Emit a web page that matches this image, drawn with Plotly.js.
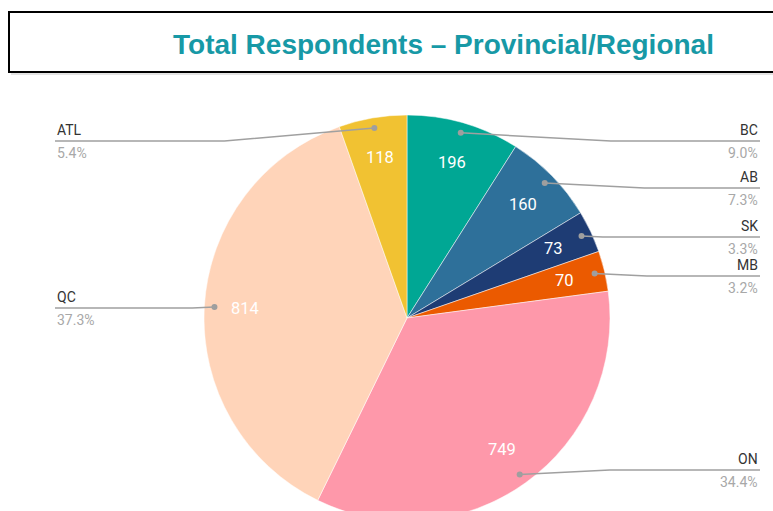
<!DOCTYPE html>
<html>
<head>
<meta charset="utf-8">
<script src="https://cdn.plot.ly/plotly-3.0.1.min.js"></script>
<style>
html, body { margin: 0; padding: 0; overflow: hidden; background: #fff; }
#chart { width: 773px; height: 540px; }
</style>
</head>
<body>
<div id="chart"></div>
<script>
// ---- data ----
const categories = ['BC', 'AB', 'SK', 'MB', 'ON', 'QC', 'ATL'];
const values = [196, 160, 73, 70, 749, 814, 118];
const titleText = 'Total Respondents \u2013 Provincial/Regional';

// ---- styles / layout constants ----
const sliceColors = ['#00a794', '#2e709a', '#1e3c74', '#eb5a00', '#fe98aa', '#ffd4b9', '#f1c232'];
const labelLineY = { BC: 141, AB: 188, SK: 237, MB: 276, ON: 470, QC: 308, ATL: 141 };

const W = 773, H = 540;
const CX = 407, CY = 318, R = 203;
const RIGHT_X = 760, LEFT_X = 55;

function px(x) { return x / W; }
function py(y) { return (H - y) / H; }

const total = values.reduce((a, b) => a + b, 0);

const shapes = [
  { type: 'rect', xref: 'paper', yref: 'paper', x0: px(9), x1: 1.02, y0: py(72), y1: py(12),
    line: { color: '#000', width: 2 }, fillcolor: 'rgba(0,0,0,0)', layer: 'above' },
  { type: 'line', xref: 'paper', yref: 'paper', x0: px(11), x1: 1.02, y0: py(74), y1: py(74),
    line: { color: '#c8c8c8', width: 1 } }
];
const annotations = [];

let cum = 0;
categories.forEach((cat, i) => {
  const v = values[i];
  const midFrac = (cum + v / 2) / total;
  cum += v;
  const th = midFrac * 2 * Math.PI;
  const s = Math.sin(th), c = Math.cos(th);
  // value label inside slice
  const tx = CX + 0.8 * R * s, ty = CY - 0.8 * R * c;
  annotations.push({ xref: 'paper', yref: 'paper', x: px(tx), y: py(ty), text: String(v),
    showarrow: false, xanchor: 'center', yanchor: 'middle',
    font: { family: 'Roboto, sans-serif', size: 16.5, color: '#ffffff' } });
  // leader dot
  const dx = CX + 0.95 * R * s, dy = CY - 0.95 * R * c;
  shapes.push({ type: 'circle', xref: 'paper', yref: 'paper', x0: px(dx - 3), x1: px(dx + 3),
    y0: py(dy + 3), y1: py(dy - 3), fillcolor: '#9e9e9e', line: { width: 0 }, layer: 'above' });
  const right = s > 0;
  const ly = labelLineY[cat];
  const endX = right ? RIGHT_X : LEFT_X;
  const bend = Math.min(150, Math.max(20, 20 * Math.abs(ly - dy)));
  const bx = right ? dx + bend : dx - bend;
  shapes.push({ type: 'path', xref: 'paper', yref: 'paper', layer: 'above',
    path: `M ${px(dx)} ${py(dy)} L ${px(bx)} ${py(ly)} L ${px(endX)} ${py(ly)}`,
    line: { color: '#a0a0a0', width: 1.5 } });
  const pct = (v / total * 100).toFixed(1) + '%';
  annotations.push({ xref: 'paper', yref: 'paper', x: px(endX), y: py(ly - 1), text: cat,
    showarrow: false, xanchor: right ? 'right' : 'left', yanchor: 'bottom',
    font: { family: 'Roboto, sans-serif', size: 14, color: '#333333' } });
  annotations.push({ xref: 'paper', yref: 'paper', x: px(endX), y: py(ly + 2), text: pct,
    showarrow: false, xanchor: right ? 'right' : 'left', yanchor: 'top',
    font: { family: 'Roboto, sans-serif', size: 14, color: '#a8a8a8' } });
});

const trace = {
  type: 'pie',
  labels: categories,
  values: values,
  sort: false,
  direction: 'clockwise',
  rotation: 0,
  textinfo: 'none',
  hoverinfo: 'label+value+percent',
  marker: { colors: sliceColors, line: { color: '#ffffff', width: 0.5 } },
  domain: { x: [px(CX - R), px(CX + R)], y: [py(CY + R), py(CY - R)] },
  showlegend: false
};

const layout = {
  width: W, height: H,
  margin: { l: 0, r: 0, t: 0, b: 0 },
  paper_bgcolor: '#ffffff',
  showlegend: false,
  title: {
    text: '<b>' + titleText + '</b>',
    font: { family: 'Liberation Sans Narrow, Arial Narrow, sans-serif', size: 28, color: '#1799a6' },
    x: px(443.5), xanchor: 'center', xref: 'paper',
    y: py(44), yanchor: 'middle', yref: 'container'
  },
  shapes: shapes,
  annotations: annotations
};

Plotly.newPlot('chart', [trace], layout, { displayModeBar: false, staticPlot: true });
</script>
</body>
</html>
